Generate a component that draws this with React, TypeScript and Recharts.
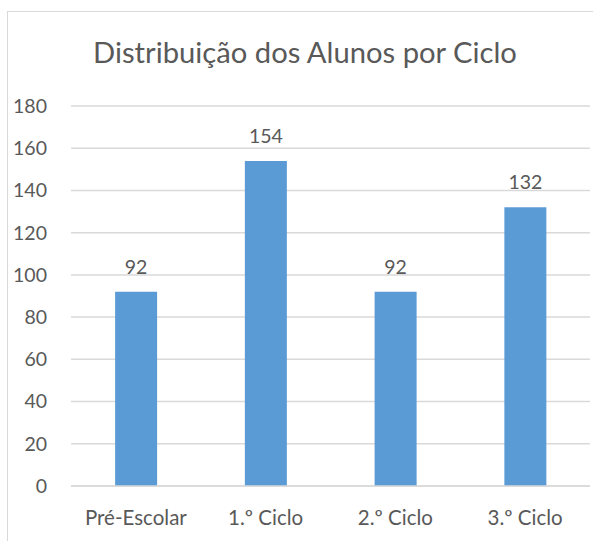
import { Bar, BarChart, CartesianGrid, LabelList, XAxis, YAxis } from "recharts";

const categories = ["Pré-Escolar", "1.º Ciclo", "2.º Ciclo", "3.º Ciclo"];
const alunos = [92, 154, 92, 132];
const yTicks = [0, 20, 40, 60, 80, 100, 120, 140, 160, 180];

const data = categories.map((ciclo, i) => ({ ciclo, alunos: alunos[i] }));

const FONT = "Lato, 'Open Sans', sans-serif";
const TEXT = "#595959";

export default function App() {
	return (
		<div
			style={{
				position: "absolute",
				left: 0,
				top: 0,
				width: 593,
				height: 541,
				overflow: "hidden",
				background: "#fff",
				fontFamily: FONT,
			}}
		>
			{/* outer chart border, cropped on the right and bottom */}
			<div
				style={{
					position: "absolute",
					left: 7,
					top: 11,
					width: 620,
					height: 560,
					border: "1px solid #D9D9D9",
					boxSizing: "border-box",
				}}
			/>
			<div
				style={{
					position: "absolute",
					left: 5,
					top: 37,
					width: 600,
					textAlign: "center",
					fontSize: 29.2,
					lineHeight: "29px",
					color: TEXT,
				}}
			>
				Distribuição dos Alunos por Ciclo
			</div>
			<div style={{ position: "absolute", left: 0, top: 0 }}>
				<BarChart
					width={593}
					height={541}
					data={data}
					margin={{ top: 106, right: 3, bottom: 25, left: 0 }}
					barCategoryGap="34%"
				>
					<CartesianGrid vertical={false} stroke="#D9D9D9" strokeWidth={1.5} />
					<XAxis
						dataKey="ciclo"
						axisLine={{ stroke: "#D9D9D9", strokeWidth: 1.5 }}
						tickLine={false}
						tickSize={0}
						tickMargin={24}
						height={30}
						tick={{ fill: TEXT, fontSize: 20.5, fontFamily: FONT }}
					/>
					<YAxis
						domain={[0, 180]}
						ticks={yTicks}
						width={71}
						axisLine={false}
						tickLine={false}
						tickSize={0}
						tickMargin={24}
						tick={{ fill: TEXT, fontSize: 19.5, fontFamily: FONT }}
					/>
					<Bar dataKey="alunos" fill="#5B9BD5" isAnimationActive={false}>
						<LabelList
							dataKey="alunos"
							position="top"
							offset={18}
							fill={TEXT}
							fontSize={19.5}
							fontFamily={FONT}
						/>
					</Bar>
				</BarChart>
			</div>
		</div>
	);
}
